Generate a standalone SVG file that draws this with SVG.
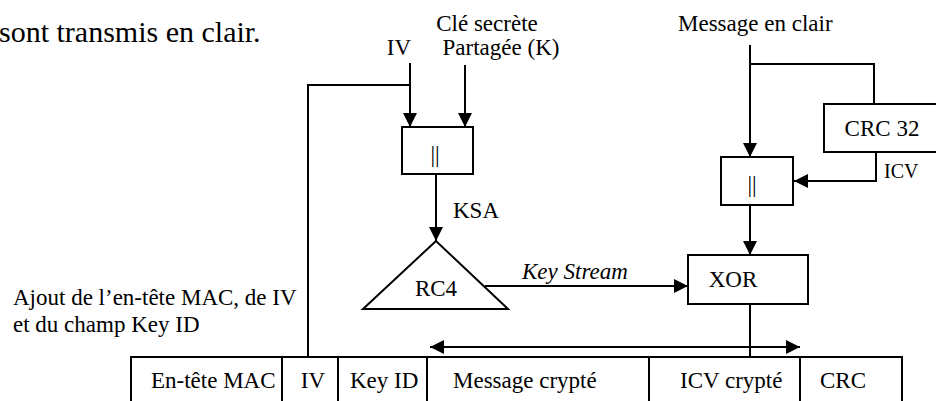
<svg xmlns="http://www.w3.org/2000/svg" width="936" height="401" viewBox="0 0 936 401" font-family="'Liberation Serif', 'Times New Roman', serif">
  <style>
    text { font-family: "Liberation Serif", "Times New Roman", serif; font-size: 23px; fill: #000; }
    .mid { text-anchor: middle; }
    .it { font-style: italic; }
    .small { font-size: 20px; }
    .big { font-size: 30px; }
    .box { fill: #fff; stroke: #000; stroke-width: 2; }
    .wire { fill: none; stroke: #000; stroke-width: 2; }
  </style>
  <defs>
    <marker id="arrow" viewBox="0 0 14 14" refX="14" refY="7" markerWidth="14" markerHeight="14" markerUnits="userSpaceOnUse" orient="auto-start-reverse">
      <path d="M0,0 L14,7 L0,14 z" fill="#000"/>
    </marker>
  </defs>
  <rect width="936" height="401" fill="#fff"/>

  <!-- running text and free labels -->
  <text class="big" x="-1" y="42">sont transmis en clair.</text>
  <text class="mid" x="399" y="55">IV</text>
  <text class="mid" x="487" y="31">Clé secrète</text>
  <text class="mid" x="501" y="55">Partagée (K)</text>
  <text x="678" y="31">Message en clair</text>
  <text x="453" y="218">KSA</text>
  <text class="it" x="522" y="279">Key Stream</text>
  <text class="small" x="884" y="178">ICV</text>
  <text x="13" y="305">Ajout de l’en-tête MAC, de IV</text>
  <text x="13" y="332">et du champ Key ID</text>

  <!-- connectors -->
  <g id="connectors">
    <path class="wire" d="M410,63 V127" marker-end="url(#arrow)"/>
    <path class="wire" d="M410,85 H308 V357"/>
    <path class="wire" d="M465,65 V127" marker-end="url(#arrow)"/>
    <path class="wire" d="M436,174 V241" marker-end="url(#arrow)"/>
    <path class="wire" d="M485,286 H688" marker-end="url(#arrow)"/>
    <path class="wire" d="M750,45 V157" marker-end="url(#arrow)"/>
    <path class="wire" d="M750,64 H874 V104"/>
    <path class="wire" d="M876,152 V181 H794" marker-end="url(#arrow)"/>
    <path class="wire" d="M750,205 V255" marker-end="url(#arrow)"/>
    <path class="wire" d="M750,304 V357"/>
    <path class="wire" d="M430,347 H800" marker-start="url(#arrow)" marker-end="url(#arrow)"/>
  </g>

  <!-- key concatenation IV || K -->
  <g id="concat-key">
    <rect class="box" x="402" y="127" width="71" height="47"/>
    <text class="mid" x="435" y="162">||</text>
  </g>

  <!-- RC4 generator -->
  <g id="rc4">
    <polygon class="box" points="436,241 363,309 508,309"/>
    <text class="mid" x="436" y="296">RC4</text>
  </g>

  <!-- message concatenation M || ICV -->
  <g id="concat-msg">
    <rect class="box" x="721" y="157" width="72" height="48"/>
    <text class="mid" x="752" y="192">||</text>
  </g>

  <!-- CRC 32 -->
  <g id="crc32">
    <rect class="box" x="824" y="104" width="120" height="48"/>
    <text class="mid" x="882" y="136">CRC 32</text>
  </g>

  <!-- XOR -->
  <g id="xor">
    <rect class="box" x="688" y="255" width="120" height="49"/>
    <text class="mid" x="733" y="287">XOR</text>
  </g>

  <!-- resulting frame -->
  <g id="frame">
    <rect class="box" x="131" y="357" width="771" height="60"/>
    <path class="wire" d="M282,357 V401 M338,357 V401 M427,357 V401 M649,357 V401 M800,357 V401"/>
    <text x="151" y="388">En-tête MAC</text>
    <text class="mid" x="313" y="388">IV</text>
    <text x="350" y="388">Key ID</text>
    <text x="453" y="388">Message crypté</text>
    <text x="680" y="388">ICV crypté</text>
    <text x="820" y="388">CRC</text>
  </g>
</svg>
